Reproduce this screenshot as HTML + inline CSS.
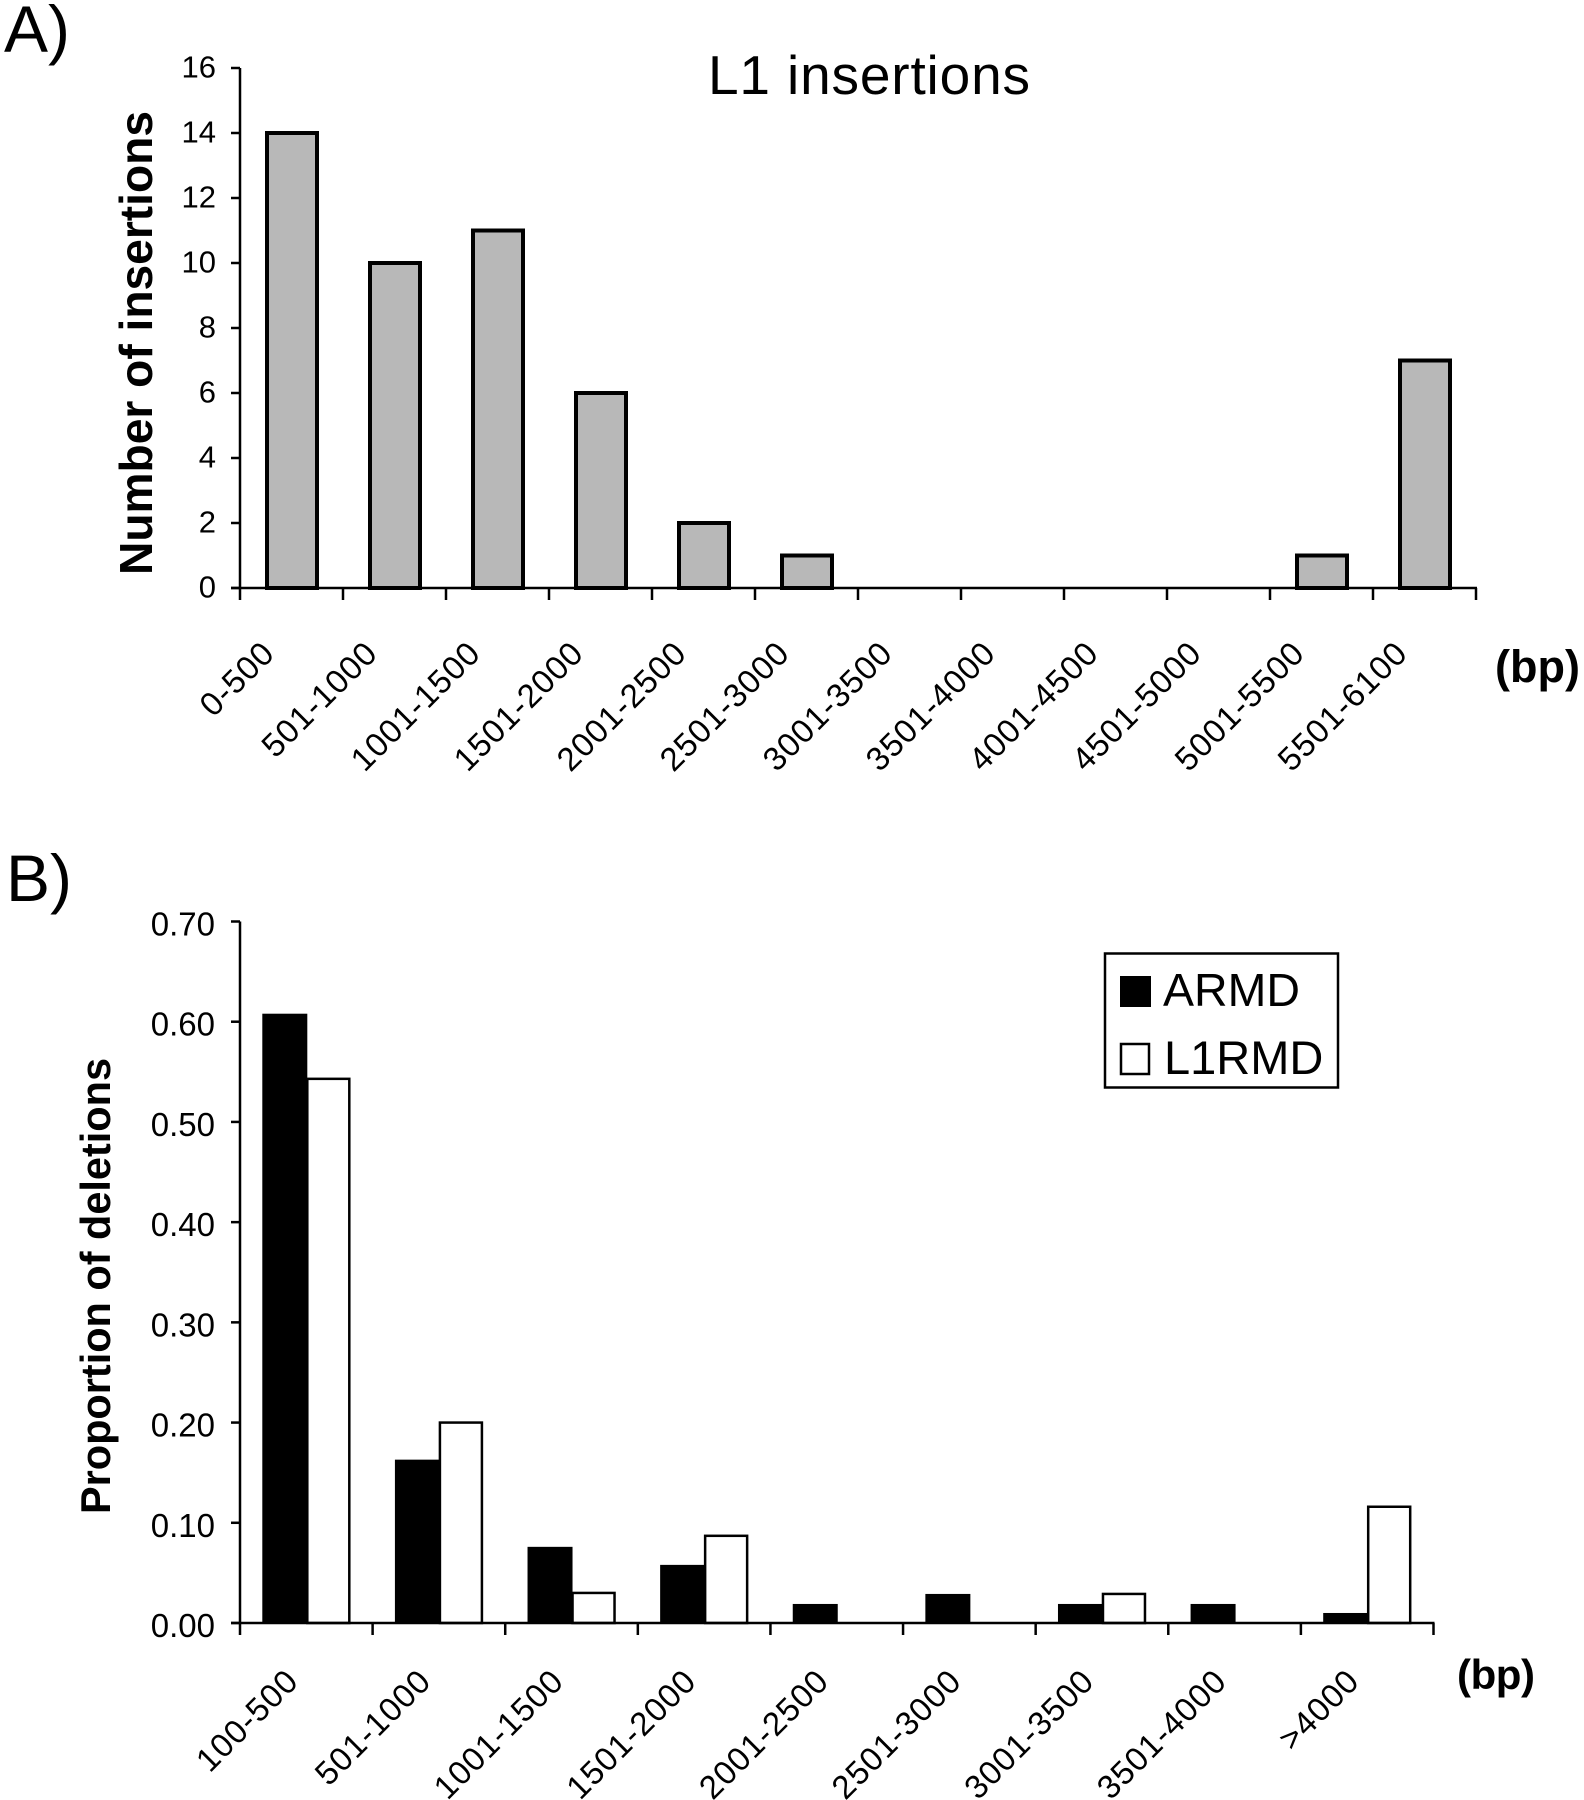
<!DOCTYPE html>
<html lang="en">
<head>
<meta charset="utf-8">
<title>L1 insertions and deletions</title>
<style>
html,body{margin:0;padding:0;background:#fff;}
svg{display:block;font-family:"Liberation Sans",Arial,sans-serif;fill:#000;}
</style>
</head>
<body>
<svg id="figure" xmlns="http://www.w3.org/2000/svg" width="1584" height="1800" viewBox="0 0 1584 1800">
<rect width="1584" height="1800" fill="#fff"/>
<text x="4" y="52" font-size="66">A)</text>
<text x="6" y="901" font-size="66">B)</text>
<text x="708" y="94" font-size="55" textLength="322" lengthAdjust="spacing">L1 insertions</text>
<text transform="translate(152,575) rotate(-90)" font-size="46" font-weight="bold" textLength="464" lengthAdjust="spacingAndGlyphs">Number of insertions</text>
<text transform="translate(110,1514) rotate(-90)" font-size="41.5" font-weight="bold" textLength="456" lengthAdjust="spacingAndGlyphs">Proportion of deletions</text>
<text x="1495" y="682" font-size="45" font-weight="bold" textLength="85" lengthAdjust="spacing">(bp)</text>
<text x="1457" y="1689" font-size="42" font-weight="bold" textLength="78" lengthAdjust="spacing">(bp)</text>
<g id="chart-a"></g>
<g id="chart-b"></g>
<g>
<rect x="1105" y="953.5" width="233" height="134" fill="#fff" stroke="#000" stroke-width="2.5"/>
<rect x="1120" y="976" width="31" height="31" fill="#000"/>
<text x="1163" y="1006" font-size="46.5">ARMD</text>
<rect x="1121" y="1044" width="28" height="30" fill="#fff" stroke="#000" stroke-width="2.5"/>
<text x="1164" y="1074" font-size="47">L1RMD</text>
</g>
</svg>
<script>
const insertionCategories = ['0-500','501-1000','1001-1500','1501-2000','2001-2500','2501-3000','3001-3500','3501-4000','4001-4500','4501-5000','5001-5500','5501-6100'];
const insertionValues = [14,10,11,6,2,1,0,0,0,0,1,7];
const insertionTicks = [0,2,4,6,8,10,12,14,16];

const deletionCategories = ['100-500','501-1000','1001-1500','1501-2000','2001-2500','2501-3000','3001-3500','3501-4000','>4000'];
const armdValues = [0.608,0.163,0.076,0.058,0.019,0.029,0.019,0.019,0.010];
const l1rmdValues = [0.543,0.200,0.030,0.087,0,0,0.029,0,0.116];
const deletionTicks = [0,0.1,0.2,0.3,0.4,0.5,0.6,0.7];

const NS = 'http://www.w3.org/2000/svg';
function make(parent, tag, props, text) {
  const el = document.createElementNS(NS, tag);
  for (const k in props) el.setAttribute(k, props[k]);
  if (text !== undefined) el.textContent = text;
  parent.appendChild(el);
  return el;
}

/* Panel A axis functions */
const aLeft = 240, aRight = 1476, aTop = 68, aZero = 588, aMax = 16;
const aBand = (aRight - aLeft) / insertionCategories.length;
function aX(i) { return aLeft + aBand * i; }
function aY(v) { return aZero - (v / aMax) * (aZero - aTop); }

/* Panel B axis functions */
const bLeft = 240, bRight = 1433.5, bTop = 921.5, bZero = 1623, bMax = 0.7;
const bBand = (bRight - bLeft) / deletionCategories.length;
function bX(i) { return bLeft + bBand * i; }
function bY(v) { return bZero - (v / bMax) * (bZero - bTop); }

const chartA = document.getElementById('chart-a');
const chartB = document.getElementById('chart-b');

/* Panel A bars */
insertionValues.forEach(function (v, i) {
  const bar = make(chartA, 'rect', {
    x: aX(i) + aBand / 2 - 24.5, y: aY(v), width: 50, height: aZero - aY(v),
    fill: '#b8b8b8', stroke: '#000', 'stroke-width': 4, opacity: v > 0 ? 1 : 0
  });
  
  
});

/* Panel A axes */
const aYAxis = make(chartA, 'line', {x1: aLeft, x2: aLeft, y1: aTop, y2: aZero + 12, stroke: '#000', 'stroke-width': 2.5});


const aXAxis = make(chartA, 'line', {x1: aLeft - 9, x2: aRight + 1, y1: aZero, y2: aZero, stroke: '#000', 'stroke-width': 2.5});



insertionTicks.forEach(function (t) {
  const tick = make(chartA, 'line', {x1: aLeft - 9, x2: aLeft, y1: aY(t), y2: aY(t), stroke: '#000', 'stroke-width': 2.5});
  
  
  const label = make(chartA, 'text', {x: 216, y: aY(t) + 9.5, 'font-size': 31, 'text-anchor': 'end'}, String(t));
  
  
});

insertionCategories.forEach(function (c, i) {
  const tick = make(chartA, 'line', {x1: aX(i + 1), x2: aX(i + 1), y1: aZero, y2: aZero + 12, stroke: '#000', 'stroke-width': 2.5});
  
  
  const ax = aX(i) + aBand / 2 - 15;
  const label = make(chartA, 'text', {
    transform: 'translate(' + ax + ',655) rotate(-45)',
    'font-size': 33, 'text-anchor': 'end', 'letter-spacing': 1
  }, c);
  
  
});

/* Panel B bars */
deletionCategories.forEach(function (c, i) {
  const center = bX(i) + bBand / 2;
  const black = make(chartB, 'rect', {
    x: center - 44, y: bY(armdValues[i]), width: 45, height: bZero - bY(armdValues[i]),
    fill: '#000', opacity: armdValues[i] > 0 ? 1 : 0
  });
  
  
  const white = make(chartB, 'rect', {
    x: center + 1, y: bY(l1rmdValues[i]), width: 42, height: bZero - bY(l1rmdValues[i]),
    fill: '#fff', stroke: '#000', 'stroke-width': 2.5, opacity: l1rmdValues[i] > 0 ? 1 : 0
  });
  
  
});

/* Panel B axes */
const bYAxis = make(chartB, 'line', {x1: bLeft, x2: bLeft, y1: bTop, y2: bZero + 12, stroke: '#000', 'stroke-width': 2.5});


const bXAxis = make(chartB, 'line', {x1: bLeft - 9, x2: bRight + 1, y1: bZero, y2: bZero, stroke: '#000', 'stroke-width': 2.5});



deletionTicks.forEach(function (t) {
  const tick = make(chartB, 'line', {x1: bLeft - 9, x2: bLeft, y1: bY(t), y2: bY(t), stroke: '#000', 'stroke-width': 2.5});
  
  
  const label = make(chartB, 'text', {x: 215, y: bY(t) + 14, 'font-size': 33, 'text-anchor': 'end'}, t.toFixed(2));
  
  
});

deletionCategories.forEach(function (c, i) {
  const tick = make(chartB, 'line', {x1: bX(i + 1), x2: bX(i + 1), y1: bZero, y2: bZero + 12, stroke: '#000', 'stroke-width': 2.5});
  
  
  const ax = bX(i) + bBand / 2 - 6;
  const label = make(chartB, 'text', {
    transform: 'translate(' + ax + ',1683) rotate(-45)',
    'font-size': 33, 'text-anchor': 'end', 'letter-spacing': 1
  }, c);
  
  
});
</script>
</body>
</html>
